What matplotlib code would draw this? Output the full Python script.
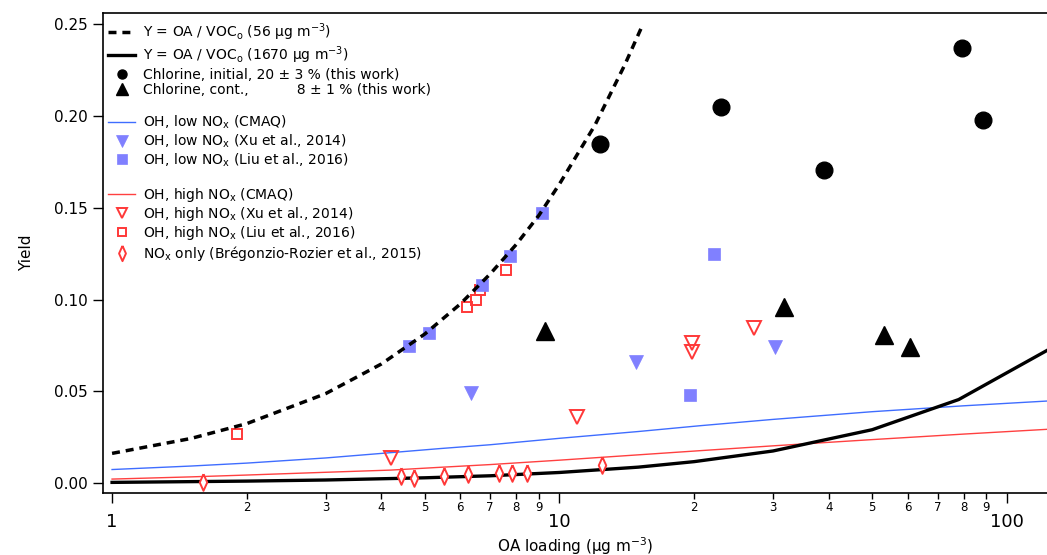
import matplotlib
matplotlib.use("Agg")
import matplotlib.pyplot as plt
from matplotlib.lines import Line2D
from matplotlib.ticker import LogLocator, FuncFormatter, FixedLocator

# Y = OA / VOCo curves
voc56_oa = [1, 1.5, 2, 3, 4, 5, 6, 7, 8, 9, 10, 12, 14, 15.3]
voc56_y = [0.0163, 0.0244, 0.0325, 0.0488, 0.065, 0.0813, 0.0976, 0.114, 0.130, 0.146, 0.163, 0.195, 0.228, 0.249]
voc1670_oa = [1, 2, 3, 5, 7, 10, 15, 20, 30, 50, 78, 123]
voc1670_y = [0.0005, 0.0012, 0.0018, 0.003, 0.0041, 0.0059, 0.0088, 0.0118, 0.0176, 0.0292, 0.0456, 0.0724]

# CMAQ yield curves
cmaq_oa = [1, 1.5, 2, 3, 4.2, 5.4, 7, 10, 15, 20.7, 30, 50, 80, 123]
cmaq_low_y = [0.0075, 0.0094, 0.011, 0.0138, 0.0167, 0.0189, 0.021, 0.0245, 0.0282, 0.0314, 0.0348, 0.039, 0.0422, 0.0448]
cmaq_high_y = [0.0023, 0.0035, 0.0045, 0.006, 0.0072, 0.0087, 0.0102, 0.0126, 0.0155, 0.0178, 0.0204, 0.0238, 0.0268, 0.0294]

# chlorine experiments (this work)
cl_init_oa = [12.3, 22.9, 39.0, 79.4, 88.4]
cl_init_y = [0.185, 0.205, 0.1705, 0.237, 0.198]
cl_cont_oa = [9.26, 31.8, 53.2, 60.6]
cl_cont_y = [0.083, 0.096, 0.0806, 0.074]

# OH, low NOx
xu_low_oa = [6.33, 14.8, 30.3]
xu_low_y = [0.049, 0.066, 0.074]
liu_low_oa = [4.62, 5.12, 6.72, 7.74, 9.15, 22.2, 19.6]
liu_low_y = [0.075, 0.082, 0.108, 0.124, 0.147, 0.125, 0.048]

# OH, high NOx
xu_high_oa = [4.21, 10.95, 19.8, 19.8, 27.2]
xu_high_y = [0.014, 0.036, 0.0764, 0.0715, 0.0846]
liu_high_oa = [1.905, 6.22, 6.52, 6.63, 7.61]
liu_high_y = [0.027, 0.096, 0.100, 0.1055, 0.116]

# NOx only (Bregonzio-Rozier et al., 2015)
bregon_oa = [1.60, 4.42, 4.72, 5.53, 6.23, 7.34, 7.82, 8.45, 12.46]
bregon_y = [0.0007, 0.0038, 0.0029, 0.0038, 0.0049, 0.0058, 0.0058, 0.0058, 0.0098]

blue_line = '#3f6dff'
red_line = '#ff4040'
blue_mk = '#8080ff'
red_mk = '#ff3838'

# tall narrow diamond like the Igor one
thin_diamond = [(0, 1), (0.45, 0), (0, -1), (-0.45, 0), (0, 1)]

fig = plt.figure(figsize=(10.47, 5.55), dpi=100)
ax = fig.add_axes([0.0981, 0.1123, 0.9019, 0.8643])

l_low, = ax.plot(cmaq_oa, cmaq_low_y, color=blue_line, lw=1.0, zorder=2)
l_high, = ax.plot(cmaq_oa, cmaq_high_y, color=red_line, lw=1.0, zorder=2)
l1670, = ax.plot(voc1670_oa, voc1670_y, color='black', lw=2.4, zorder=2)

ax.plot(bregon_oa, bregon_y, marker=thin_diamond, linestyle='none', ms=12, mfc='white', mec=red_mk, mew=1.4, zorder=3)
ax.plot(xu_high_oa, xu_high_y, 'v', ms=9.5, mfc='none', mec=red_mk, mew=1.4, zorder=3)
ax.plot(liu_high_oa, liu_high_y, 's', ms=7.5, mfc='none', mec=red_mk, mew=1.4, zorder=3)
ax.plot(xu_low_oa, xu_low_y, 'v', ms=10.5, color=blue_mk, mew=0.5, zorder=3)
ax.plot(liu_low_oa, liu_low_y, 's', ms=8.5, color=blue_mk, mew=0.5, zorder=3)
ax.plot(cl_init_oa, cl_init_y, 'o', ms=12, color='black', zorder=3)
ax.plot(cl_cont_oa, cl_cont_y, '^', ms=13, color='black', zorder=3)

l56, = ax.plot(voc56_oa, voc56_y, color='black', lw=2.5, dashes=(2.3, 1.7), zorder=4)

ax.set_xscale('log')
ax.set_xlim(0.953, 122.9)
ax.set_ylim(-0.0051, 0.2561)

# axis ticks, Igor style: minor ticks get small digit labels
ax.xaxis.set_major_locator(FixedLocator([1, 10, 100]))
ax.xaxis.set_major_formatter(FuncFormatter(lambda v, p: '%g' % v))
ax.xaxis.set_minor_locator(LogLocator(base=10, subs=range(2, 10), numticks=20))

def minor_label(v, p):
    s = '%g' % v
    return s[0]

ax.xaxis.set_minor_formatter(FuncFormatter(minor_label))
ax.tick_params(axis='x', which='major', direction='out', length=7.5, width=1, pad=7, labelsize=13)
ax.tick_params(axis='x', which='minor', direction='out', length=4.3, width=1, pad=2, labelsize=8.5)
ax.set_yticks([0, 0.05, 0.10, 0.15, 0.20, 0.25])
ax.yaxis.set_major_formatter(FuncFormatter(lambda v, p: '%.2f' % v))
ax.tick_params(axis='y', which='major', direction='out', length=7, width=1, pad=4, labelsize=11)

for s in ['left', 'top', 'bottom']:
    ax.spines[s].set_linewidth(1.2)
ax.spines['right'].set_visible(False)

ax.set_xlabel('OA loading (\u00b5g m$^{\\mathregular{-3}}$)', fontsize=11, labelpad=3)
ax.set_ylabel('Yield', fontsize=11, labelpad=14)

# legend proxies, markers drawn a bit smaller than in the plot
blank = Line2D([], [], linestyle='none')
h_ci = Line2D([], [], marker='o', linestyle='none', ms=6.5, color='black')
h_cc = Line2D([], [], marker='^', linestyle='none', ms=8, color='black')
h_xl = Line2D([], [], marker='v', linestyle='none', ms=8, color=blue_mk, mew=0.5)
h_ll = Line2D([], [], marker='s', linestyle='none', ms=7, color=blue_mk, mew=0.5)
h_xh = Line2D([], [], marker='v', linestyle='none', ms=7.5, mfc='none', mec=red_mk, mew=1.4)
h_lh = Line2D([], [], marker='s', linestyle='none', ms=6, mfc='none', mec=red_mk, mew=1.4)
h_br = Line2D([], [], marker=thin_diamond, linestyle='none', ms=11, mfc='white', mec=red_mk, mew=1.4)

handles = [l56, l1670, h_ci, h_cc, blank, l_low, h_xl, h_ll, blank, l_high, h_xh, h_lh, h_br]
labels = [
    'Y = OA / VOC$_\\mathregular{o}$ (56 \u00b5g m$^{\\mathregular{-3}}$)',
    'Y = OA / VOC$_\\mathregular{o}$ (1670 \u00b5g m$^{\\mathregular{-3}}$)',
    'Chlorine, initial, 20 \u00b1 3 % (this work)',
    'Chlorine, cont.,           8 \u00b1 1 % (this work)',
    '',
    'OH, low NO$_\\mathregular{x}$ (CMAQ)',
    'OH, low NO$_\\mathregular{x}$ (Xu et al., 2014)',
    'OH, low NO$_\\mathregular{x}$ (Liu et al., 2016)',
    '',
    'OH, high NO$_\\mathregular{x}$ (CMAQ)',
    'OH, high NO$_\\mathregular{x}$ (Xu et al., 2014)',
    'OH, high NO$_\\mathregular{x}$ (Liu et al., 2016)',
    'NO$_\\mathregular{x}$ only (Br\u00e9gonzio-Rozier et al., 2015)',
]
ax.legend(handles, labels, loc='upper left', bbox_to_anchor=(0.006, 0.982), frameon=False,
          fontsize=10, handlelength=1.95, handletextpad=0.55, labelspacing=0.1,
          markerscale=1.0, numpoints=1, borderpad=0, borderaxespad=0)

fig.savefig('out.png', dpi=100)
